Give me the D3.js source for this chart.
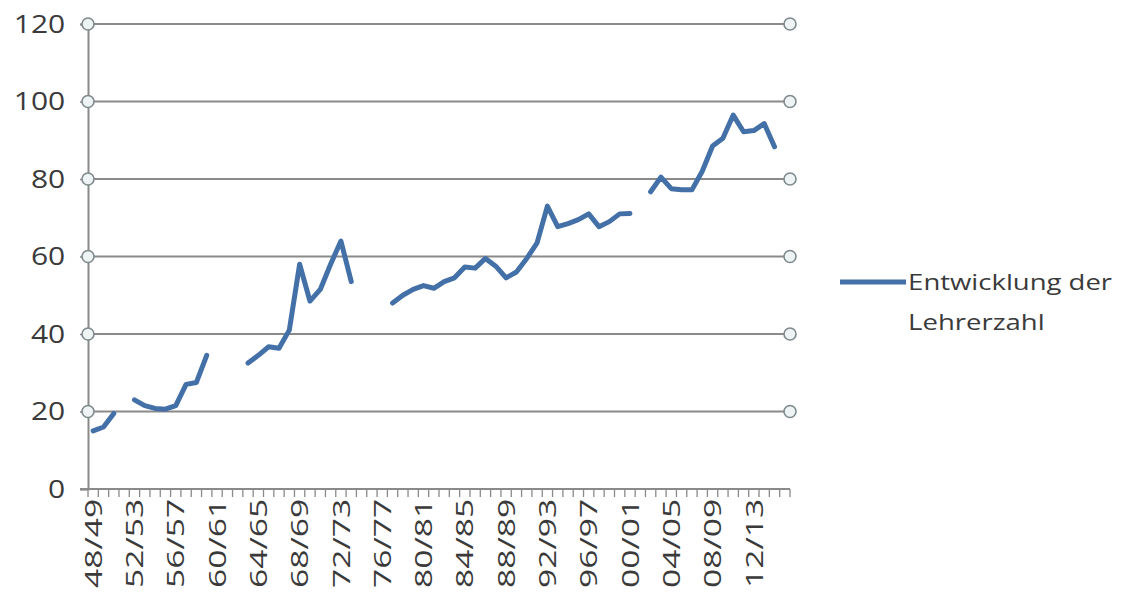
<!DOCTYPE html>
<html>
<head>
<meta charset="utf-8">
<script src="https://cdn.jsdelivr.net/npm/d3@7"></script>
<style>
  body { margin: 0; background: #fff; }
  svg text { font-family: "Open Sans", "DejaVu Sans", sans-serif; fill: #3a3a3a; }
</style>
</head>
<body>
<div id="chart"></div>
<script>
// school years 48/49 .. 15/16
var years = ["48/49","49/50","50/51","51/52","52/53","53/54","54/55","55/56","56/57","57/58",
  "58/59","59/60","60/61","61/62","62/63","63/64","64/65","65/66","66/67","67/68",
  "68/69","69/70","70/71","71/72","72/73","73/74","74/75","75/76","76/77","77/78",
  "78/79","79/80","80/81","81/82","82/83","83/84","84/85","85/86","86/87","87/88",
  "88/89","89/90","90/91","91/92","92/93","93/94","94/95","95/96","96/97","97/98",
  "98/99","99/00","00/01","01/02","02/03","03/04","04/05","05/06","06/07","07/08",
  "08/09","09/10","10/11","11/12","12/13","13/14","14/15","15/16"];

// Entwicklung der Lehrerzahl (null = no value)
var teachers = [15,16,19.5,null,23,21.5,20.8,20.6,21.5,27,
  27.5,34.5,null,null,null,32.5,34.5,36.7,36.3,41,
  58,48.5,51.5,58,64,53.5,null,null,null,48,
  50,51.5,52.5,51.8,53.5,54.5,57.3,57,59.5,57.5,
  54.5,56,59.5,63.5,73,67.7,68.5,69.5,71,67.7,
  69,71,71.1,null,76.7,80.5,77.5,77.2,77.2,82,
  88.5,90.5,96.5,92.2,92.5,94.3,88.3,null];

var yTicks = [0,20,40,60,80,100,120];
var seriesName = ["Entwicklung der", "Lehrerzahl"];

var width = 1124, height = 600;
var margin = { left: 88, right: 790, top: 24, bottom: 489 };

var svg = d3.select("#chart").append("svg")
  .attr("width", width)
  .attr("height", height);

var x = d3.scaleBand().domain(years).range([margin.left, margin.right]).paddingInner(0).paddingOuter(0);
var y = d3.scaleLinear().domain([0, 120]).range([margin.bottom, margin.top]);

// gridlines
svg.append("g").selectAll("line")
  .data(yTicks.filter(d => d > 0))
  .enter().append("line")
  .attr("x1", margin.left).attr("x2", margin.right)
  .attr("y1", d => y(d)).attr("y2", d => y(d))
  .attr("stroke", "#8a8a8a")
  .attr("stroke-width", 2);

// y axis
var yAxis = d3.axisLeft(y).tickValues(yTicks).tickSize(8);
var gy = svg.append("g").attr("transform", `translate(${margin.left},0)`).call(yAxis);
gy.select(".domain").attr("stroke", "#8a8a8a").attr("stroke-width", 2);
gy.selectAll(".tick line").attr("stroke", "#8a8a8a").attr("stroke-width", 1.5);
gy.selectAll("text")
  .attr("font-size", 25)
  .attr("x", -19)
  .attr("fill", "#3a3a3a")
  .attr("transform", "scale(1.2,1)");

// x axis line
svg.append("line")
  .attr("x1", margin.left - 8).attr("x2", margin.right)
  .attr("y1", margin.bottom).attr("y2", margin.bottom)
  .attr("stroke", "#8a8a8a").attr("stroke-width", 2);

// tick marks between categories
var edges = years.map(d => x(d)).concat([margin.right]);
svg.append("g").selectAll("line")
  .data(edges)
  .enter().append("line")
  .attr("x1", d => d).attr("x2", d => d)
  .attr("y1", margin.bottom).attr("y2", margin.bottom + 8)
  .attr("stroke", "#8a8a8a").attr("stroke-width", 1.3);

// x labels every 4th year
var xAxis = d3.axisBottom(x)
  .tickValues(years.filter((d, i) => i % 4 === 0))
  .tickSize(0);
var gx = svg.append("g").attr("transform", `translate(0,${margin.bottom})`).call(xAxis);
gx.select(".domain").remove();
gx.selectAll("text")
  .attr("font-size", 24)
  .attr("text-anchor", "end")
  .attr("transform", "rotate(-90) scale(1.4,1)")
  .attr("x", -7)
  .attr("y", 0)
  .attr("dy", "0.36em")
  .attr("fill", "#3a3a3a");

// circle markers at gridline ends
var markers = yTicks.filter(d => d > 0);
[margin.left, margin.right].forEach(function (cx) {
  svg.append("g").selectAll("circle")
    .data(markers)
    .enter().append("circle")
    .attr("cx", cx)
    .attr("cy", d => y(d))
    .attr("r", 6)
    .attr("fill", "#eef4f4")
    .attr("stroke", "#7f8a8e")
    .attr("stroke-width", 1.6);
});

// the series line
var line = d3.line()
  .defined(d => d != null)
  .x((d, i) => x(years[i]) + x.bandwidth() / 2)
  .y(d => y(d));

svg.append("path")
  .datum(teachers)
  .attr("d", line)
  .attr("fill", "none")
  .attr("stroke", "#4470a8")
  .attr("stroke-width", 5)
  .attr("stroke-linejoin", "round")
  .attr("stroke-linecap", "round");

// legend
var legend = svg.append("g").attr("transform", "translate(840,282)");
legend.append("line")
  .attr("x1", 0).attr("x2", 66)
  .attr("y1", 0).attr("y2", 0)
  .attr("stroke", "#4470a8")
  .attr("stroke-width", 5);
legend.selectAll("text")
  .data(seriesName)
  .enter().append("text")
  .attr("x", 54.5)
  .attr("y", (d, i) => 8 + i * 40)
  .attr("font-size", 22)
  .attr("fill", "#3a3a3a")
  .attr("transform", "scale(1.25,1)")
  .text(d => d);
</script>
</body>
</html>
